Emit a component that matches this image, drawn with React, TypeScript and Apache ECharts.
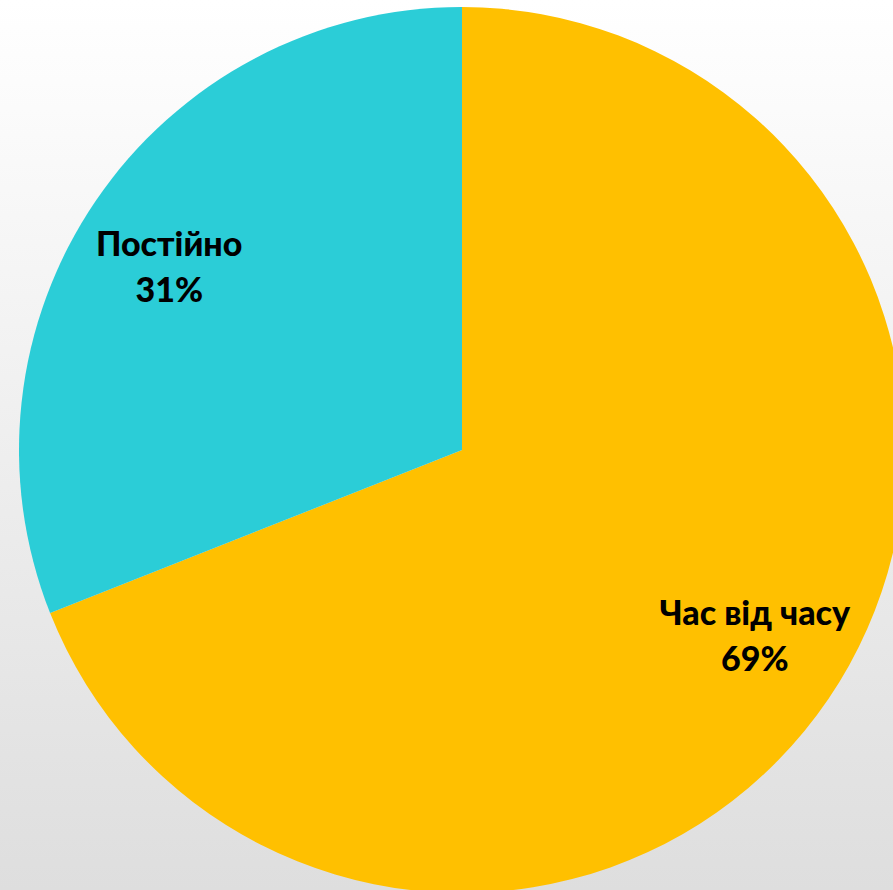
import React, { useEffect, useRef } from "react";
import * as echarts from "echarts";

const categories = ["Час від часу", "Постійно"];
const values = [69, 31];
const colors = ["#FFC000", "#2BCDD7"];

export default function App() {
  const ref = useRef<HTMLDivElement>(null);
  useEffect(() => {
    document.body.style.margin = "0";
    const chart = echarts.init(ref.current!, undefined, { renderer: "svg" });
    const data = categories.map((name, i) => ({
      name,
      value: values[i],
      itemStyle: { color: colors[i] },
    }));
    chart.setOption({
      animation: false,
      backgroundColor: new echarts.graphic.LinearGradient(0, 0, 0, 1, [
        { offset: 0, color: "#ffffff" },
        { offset: 1, color: "#dedede" },
      ]),
      series: [
        {
          type: "pie",
          center: [462, 450],
          radius: [0, 443],
          startAngle: 90,
          clockwise: true,
          data,
          label: { show: false },
          labelLine: { show: false },
          silent: true,
        },
        {
          type: "pie",
          center: [462, 450],
          radius: [243, 443],
          startAngle: 92,
          clockwise: true,
          data: categories.map((name, i) => ({ name, value: values[i] })),
          itemStyle: { color: "rgba(0,0,0,0)" },
          label: {
            show: true,
            position: "inside",
            formatter: "{b}\n{c}%",
            color: "#000000",
            fontFamily: "Lato",
            fontWeight: 900,
            fontSize: 34,
            lineHeight: 46,
          },
          labelLine: { show: false },
          silent: true,
        },
      ],
    });
    return () => chart.dispose();
  }, []);
  return <div ref={ref} style={{ width: 893, height: 890 }} />;
}
